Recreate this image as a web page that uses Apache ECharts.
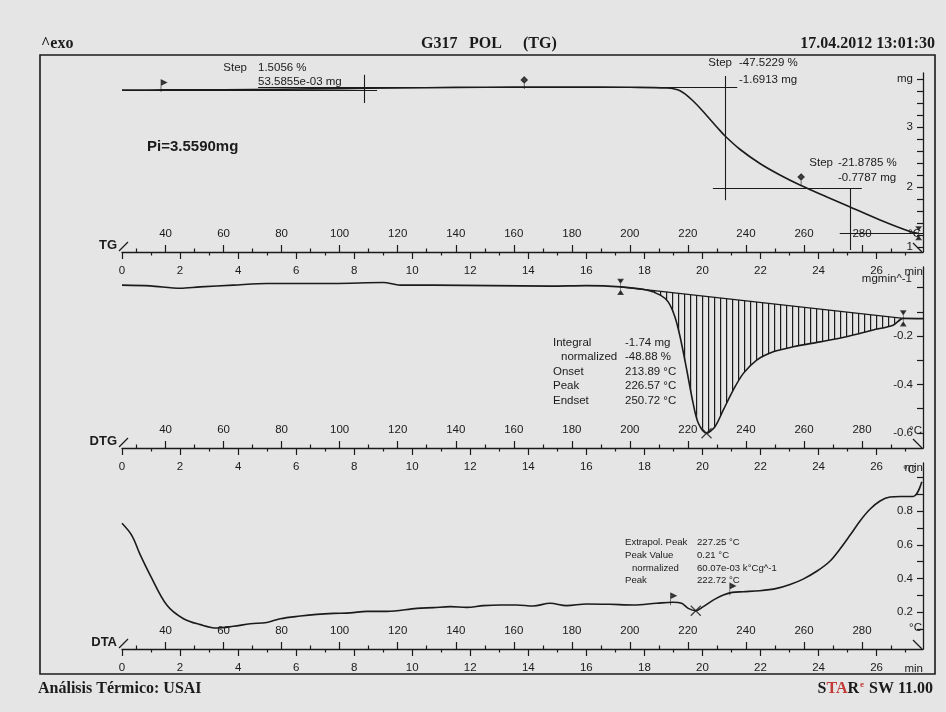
<!DOCTYPE html>
<html><head><meta charset="utf-8">
<script src="https://cdn.jsdelivr.net/npm/echarts@6/dist/echarts.min.js"></script>
<style>html,body{margin:0;padding:0;background:#e5e5e5}#c{width:946px;height:712px}</style>
</head><body><div id="c"></div>
<script>
// ---------------- DATA ----------------
// time axis (min) and temperature axis (°C), 10 K/min from 25 °C
const timeRange = [0, 27.6];
const tempRange = [25, 301];
const timeMajorTicks = [0,2,4,6,8,10,12,14,16,18,20,22,24,26];
const timeMinorTicks = [1,3,5,7,9,11,13,15,17,19,21,23,25,27];
const tempMajorTicks = [40,60,80,100,120,140,160,180,200,220,240,260,280];
const tempMinorTicks = [30,50,70,90,110,130,150,170,190,210,230,250,270,290];

// TG curve
const tgTemp = [25,40,60,80,100,120,140,160,180,200,212.8,217.3,221.8,226.6,230.1,232.8,238.0,244.8,251.7,258.6,267.9,275.1,286.2,296.5,299.6];
const tgMass = [3.615,3.618,3.622,3.63,3.64,3.65,3.66,3.665,3.665,3.662,3.65,3.605,3.433,3.183,2.992,2.85,2.625,2.392,2.2,2.033,1.833,1.683,1.45,1.258,1.225];
const tgYTicks = [1.0,1.2,1.4,1.6,1.8,2.0,2.2,2.4,2.6,2.8,3.0,3.2,3.4,3.6,3.8];
const tgYLabels = [1,2,3,3.8];
const tgRange = [0.9167, 3.9];
// step evaluation construction lines [[T1,m1],[T2,m2]]
const tgStepLines = [
  [[25.5,3.617],[112.9,3.617]],
  [[108.4,3.87],[108.4,3.40]],
  [[71.9,3.667],[237,3.667]],
  [[232.7,3.85],[232.7,1.78]],
  [[228.6,1.98],[279.9,1.98]],
  [[276.1,1.98],[276.1,0.95]],
  [[272.3,1.225],[301,1.225]]
];
const tgMarkers = [[39.3,3.617],[163.6,3.667],[259,2.05],[299.5,1.23]];

// DTG curve
const dtgTemp = [25,34.7,45.1,51.9,63.4,74.9,97.9,115.1,120.8,132.3,172.5,185,196.8,205.8,210.5,213.2,215.5,217.3,219.6,221.8,223.6,226.4,229.3,232.2,235.6,239.1,243.7,249.4,256.3,265.5,274.6,283.8,290.7,294.2,301];
const dtgRate = [0.010,0.007,-0.003,0.003,0.010,0.017,0.017,0.021,0.010,0.010,0.006,0.008,0.003,-0.010,-0.031,-0.059,-0.120,-0.203,-0.340,-0.478,-0.560,-0.601,-0.574,-0.505,-0.423,-0.354,-0.299,-0.265,-0.244,-0.224,-0.203,-0.175,-0.155,-0.127,-0.128];
const dtgLimits = [196.8, 294.2];
const dtgPeak = [226.4, -0.601];
const dtgYTicks = [-0.6,-0.5,-0.4,-0.3,-0.2,-0.1,0.0];
const dtgYLabels = [-0.6,-0.4,-0.2];
const dtgRange = [-0.662, 0.085];

// DTA curve
const dtaTemp = [25,28.4,31.3,34.7,40.5,46.2,52,57.7,63.4,69.2,74.9,79.5,86.4,92.1,97.9,103.6,109.4,116.3,126.6,132.3,138.1,143.8,149.5,155.3,161,166.7,172.5,178.2,185.1,193.1,201.2,209.2,214.9,217.8,220.1,222.7,225.3,228.7,232.2,235.3,239.1,244.8,250.6,255.2,259.7,264.5,269.0,272.4,275.9,279.3,282.8,286.2,289.6,293.1,297.6,300.6];
const dtaSignal = [0.728,0.655,0.540,0.420,0.240,0.160,0.125,0.105,0.115,0.130,0.138,0.160,0.176,0.186,0.192,0.195,0.204,0.204,0.222,0.226,0.232,0.228,0.238,0.242,0.242,0.236,0.252,0.238,0.248,0.246,0.242,0.252,0.258,0.252,0.222,0.208,0.232,0.271,0.301,0.317,0.321,0.327,0.341,0.364,0.396,0.444,0.504,0.575,0.658,0.742,0.813,0.861,0.885,0.888,0.888,0.976];
const dtaMarkers = [[214.9,0.258],[235.3,0.317]];
const dtaPeak = [222.7, 0.208];
const dtaYTicks = [0.1,0.2,0.3,0.4,0.5,0.6,0.7,0.8,0.9,1.0];
const dtaYLabels = [0.2,0.4,0.6,0.8];
const dtaRange = [-0.020, 1.087];

// ---------------- STYLE / LAYOUT ----------------
const INK = '#1b1b1b';
const SANS = '"Liberation Sans", Arial, sans-serif';
const SERIF = '"Liberation Serif", "Times New Roman", serif';
const grids = [
  {left:122, right:23, top:73, height:179},
  {left:122, right:23, top:267, height:181},
  {left:122, right:23, top:463, height:186}
];

function xAxesFor(g){
  const line = {show:true, onZero:false, lineStyle:{color:INK, width:1.3}};
  const noLine = {show:false, onZero:false};
  const lab = {fontSize:11.5, fontFamily:SANS, color:INK};
  return [
    {gridIndex:g, type:'value', position:'bottom', min:timeRange[0], max:timeRange[1], splitLine:{show:false},
     axisLine:line, axisTick:{show:true, length:7, customValues:timeMajorTicks, lineStyle:{color:INK,width:1.2}},
     axisLabel:Object.assign({customValues:timeMajorTicks, margin:13}, lab)},
    {gridIndex:g, type:'value', position:'bottom', min:timeRange[0], max:timeRange[1], splitLine:{show:false},
     axisLine:noLine, axisTick:{show:true, length:3.5, customValues:timeMinorTicks, lineStyle:{color:INK,width:1.2}},
     axisLabel:{show:false}},
    {gridIndex:g, type:'value', position:'bottom', min:tempRange[0], max:tempRange[1], splitLine:{show:false},
     axisLine:noLine, axisTick:{show:true, inside:true, length:7, customValues:tempMajorTicks, lineStyle:{color:INK,width:1.2}},
     axisLabel:Object.assign({inside:true, customValues:tempMajorTicks, margin:12}, lab)},
    {gridIndex:g, type:'value', position:'bottom', min:tempRange[0], max:tempRange[1], splitLine:{show:false},
     axisLine:noLine, axisTick:{show:true, inside:true, length:3.5, customValues:tempMinorTicks, lineStyle:{color:INK,width:1.2}},
     axisLabel:{show:false}}
  ];
}
function yAxisFor(g, range, ticks, labels, fmt){
  return {gridIndex:g, type:'value', position:'right', min:range[0], max:range[1], splitLine:{show:false},
    axisLine:{show:true, onZero:false, lineStyle:{color:INK, width:1.3}},
    axisTick:{show:true, inside:true, length:6, customValues:ticks, lineStyle:{color:INK,width:1.2}},
    axisLabel:{inside:true, customValues:labels, margin:10, fontSize:11.5, fontFamily:SANS, color:INK, formatter:fmt}};
}

const xAxis = [].concat(xAxesFor(0), xAxesFor(1), xAxesFor(2));
const yAxis = [
  yAxisFor(0, tgRange, tgYTicks, tgYLabels, v => v > 3.5 ? 'mg' : String(Math.round(v))),
  yAxisFor(1, dtgRange, dtgYTicks, dtgYLabels, v => String(v)),
  yAxisFor(2, dtaRange, dtaYTicks, dtaYLabels, v => String(v))
];

const zip = (a,b) => a.map((x,i) => [x, b[i]]);
const tgData = zip(tgTemp, tgMass);
const dtgData = zip(dtgTemp, dtgRate);
const dtaData = zip(dtaTemp, dtaSignal);
const hatchPts = dtgData.filter(p => p[0] >= dtgLimits[0] && p[0] <= dtgLimits[1]);
const dtgBaseline = [hatchPts[0], hatchPts[hatchPts.length-1]];

// hatch pattern (vertical lines)
const hatch = document.createElement('canvas');
hatch.width = 6; hatch.height = 4;
const hctx = hatch.getContext('2d');
hctx.fillStyle = INK; hctx.fillRect(0,0,1.2,4);

const FLAG = 'path://M0,0L0,12M0,0L5,2.5L0,5Z';
const DIAM = 'path://M3,0L6,3L3,6L0,3ZM3,6L3,12';
const BRACKET = 'path://M2,0L2,14M0,0L4,0L2,3ZM0,14L4,14L2,11Z';
const XMARK = 'path://M0,0L10,10M10,0L0,10';
const markStyle = {color:INK, borderColor:INK, borderWidth:1.1};

const curveStyle = {color:INK, width:1.6};
const series = [
  {type:'line', xAxisIndex:2, yAxisIndex:0, data:tgData, showSymbol:false, smooth:0.35,
   lineStyle:curveStyle, z:5,
   markLine:{silent:true, symbol:['none','none'], label:{show:false}, lineStyle:{color:INK, width:1.1, type:'solid'},
     data: tgStepLines.map(l => [{coord:l[0]},{coord:l[1]}])}},
  {type:'scatter', xAxisIndex:2, yAxisIndex:0, z:6,
   data: tgMarkers.map((p,i) => ({value:p, symbol: i===0 ? FLAG : (i===3 ? BRACKET : DIAM),
     symbolSize: i===0 ? [5,12] : (i===3 ? [4,12] : [6,12]), symbolOffset: i===3 ? [0,0] : [0,-4]})),
   itemStyle:markStyle},
  {type:'custom', xAxisIndex:6, yAxisIndex:1, data:[hatchPts[0]], z:2, silent:true,
   renderItem:(params, api) => ({type:'polygon', shape:{points: hatchPts.map(p => api.coord(p))},
     style:{fill:{image:hatch, repeat:'repeat'}, stroke:null}})},
  {type:'line', xAxisIndex:6, yAxisIndex:1, data:dtgBaseline, showSymbol:false, lineStyle:{color:INK,width:1.2}, z:4},
  {type:'line', xAxisIndex:6, yAxisIndex:1, data:dtgData, showSymbol:false, smooth:0.3, lineStyle:curveStyle, z:5},
  {type:'scatter', xAxisIndex:6, yAxisIndex:1, z:6, itemStyle:markStyle,
   data:[{value:dtgBaseline[0], symbol:BRACKET, symbolSize:[4,14]},
         {value:dtgBaseline[1], symbol:BRACKET, symbolSize:[4,14]},
         {value:dtgPeak, symbol:XMARK, symbolSize:10, itemStyle:{color:'none', borderColor:INK, borderWidth:1.3}}]},
  {type:'line', xAxisIndex:10, yAxisIndex:2, data:dtaData, showSymbol:false, smooth:0.35, lineStyle:curveStyle, z:5},
  {type:'scatter', xAxisIndex:10, yAxisIndex:2, z:6, itemStyle:markStyle,
   data: dtaMarkers.map(p => ({value:p, symbol:FLAG, symbolSize:[5,12], symbolOffset:[0,-3]}))
     .concat([{value:dtaPeak, symbol:XMARK, symbolSize:10, itemStyle:{color:'none', borderColor:INK, borderWidth:1.3}}])}
];

// ---------------- TEXT / DECORATION ----------------
function txt(x, y, text, font, align, color){
  return {type:'text', x:x, y:y, z:100, silent:true,
    style:{text:text, font:font, fill:color||INK, align:align||'left', verticalAlign:'middle',
           textAlign:align||'left', textVerticalAlign:'middle'}};
}
function ln(x1,y1,x2,y2,w){
  return {type:'line', z:90, silent:true, shape:{x1:x1,y1:y1,x2:x2,y2:y2}, style:{stroke:INK, lineWidth:w||1.2}};
}
const HEAD = 'bold 16px ' + SERIF;
const F12 = '11.5px ' + SANS;
const F10 = '9.6px ' + SANS;
const graphics = [
  {type:'rect', z:80, silent:true, shape:{x:40, y:55, width:895, height:619}, style:{fill:'none', stroke:INK, lineWidth:1.6}},
  txt(41, 44, '^exo', HEAD),
  txt(421, 44, 'G317', HEAD),
  txt(469, 44, 'POL', HEAD),
  txt(523, 44, '(TG)', HEAD),
  txt(935, 44, '17.04.2012 13:01:30', HEAD, 'right'),
  txt(38, 689, 'Análisis Térmico: USAI', HEAD),
  {type:'text', x:933, y:689, z:100, silent:true,
   style:{text:'{k|S}{r|TA}{k|R}{s|e} {k|SW 11.00}', align:'right', verticalAlign:'middle', textAlign:'right', textVerticalAlign:'middle',
     font:HEAD, fill:INK,
     rich:{k:{font:HEAD, fill:INK, color:INK}, r:{font:HEAD, fill:'#c23a36', color:'#c23a36'},
           s:{font:'bold 9px '+SERIF, fill:'#c23a36', color:'#c23a36', padding:[0,1,9,1]}}}},
  // panel names and axis slashes
  txt(117, 245, 'TG', 'bold 13px '+SANS, 'right'),
  txt(117, 441, 'DTG', 'bold 13px '+SANS, 'right'),
  txt(117, 642, 'DTA', 'bold 13px '+SANS, 'right'),
  ln(119, 251, 128, 242), ln(119, 447, 128, 438), ln(119, 648, 128, 639),
  ln(913, 243, 922, 252), ln(913, 439, 922, 448), ln(913, 640, 922, 649),
  // axis units
  txt(921, 234, '°C', F12, 'right'), txt(923, 272, 'min', F12, 'right'),
  txt(912, 279, 'mgmin^-1', F12, 'right'),
  txt(922, 431, '°C', F12, 'right'), txt(923, 468, 'min', F12, 'right'),
  txt(916, 470, '°C', F12, 'right'),
  txt(922, 628, '°C', F12, 'right'), txt(923, 669, 'min', F12, 'right'),
  // TG annotations
  txt(147, 147, 'Pi=3.5590mg', 'bold 15px '+SANS),
  txt(247, 68, 'Step', F12, 'right'), txt(258, 68, '1.5056 %', F12), txt(258, 82, '53.5855e-03 mg', F12),
  txt(732, 63, 'Step', F12, 'right'), txt(739, 63, '-47.5229 %', F12), txt(739, 80, '-1.6913 mg', F12),
  txt(833, 163, 'Step', F12, 'right'), txt(838, 163, '-21.8785 %', F12), txt(838, 178, '-0.7787 mg', F12),
  // DTG annotations
  txt(553, 343, 'Integral', F12), txt(625, 343, '-1.74 mg', F12),
  txt(561, 357, 'normalized', F12), txt(625, 357, '-48.88 %', F12),
  txt(553, 372, 'Onset', F12), txt(625, 372, '213.89 °C', F12),
  txt(553, 386, 'Peak', F12), txt(625, 386, '226.57 °C', F12),
  txt(553, 401, 'Endset', F12), txt(625, 401, '250.72 °C', F12),
  // DTA annotations
  txt(625, 542, 'Extrapol. Peak', F10), txt(697, 542, '227.25 °C', F10),
  txt(625, 555, 'Peak Value', F10), txt(697, 555, '0.21 °C', F10),
  txt(632, 568, 'normalized', F10), txt(697, 568, '60.07e-03 k°Cg^-1', F10),
  txt(625, 580, 'Peak', F10), txt(697, 580, '222.72 °C', F10)
];

const chart = echarts.init(document.getElementById('c'), null, {renderer:'canvas'});
chart.setOption({
  animation:false,
  backgroundColor:'#e5e5e5',
  grid:grids,
  xAxis:xAxis,
  yAxis:yAxis,
  series:series,
  graphic:graphics
});
</script></body></html>
